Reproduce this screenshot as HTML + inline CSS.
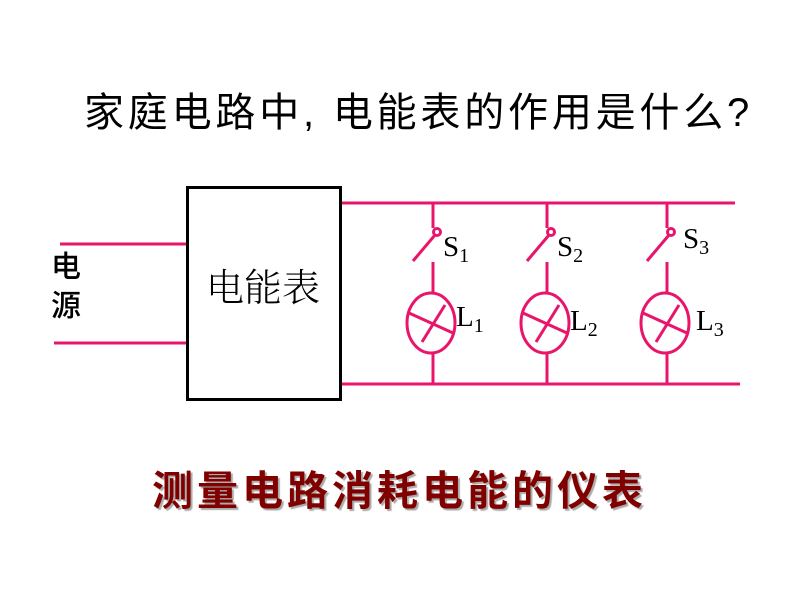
<!DOCTYPE html>
<html><head><meta charset="utf-8"><style>
body{margin:0;background:#fff;width:800px;height:600px;overflow:hidden;position:relative;font-family:"Liberation Sans","Noto Sans CJK SC",sans-serif}
.t{position:absolute;white-space:nowrap;line-height:1}
</style></head><body>
<div class="t" style="left:84px;top:93px;font-size:40px;letter-spacing:3.8px;color:#000">家庭电路中, 电能表的作用是什么?</div>
<svg width="800" height="600" style="position:absolute;left:0;top:0">
<g stroke="#e8156b" stroke-width="3" fill="none">
<line x1="60" y1="244" x2="186" y2="244"/>
<line x1="54" y1="343" x2="186" y2="343"/>
<line x1="342" y1="203" x2="735" y2="203"/>
<line x1="342" y1="384" x2="740" y2="384"/>
<g id="b">
<line x1="433" y1="203" x2="433" y2="228"/>
<circle cx="437" cy="232" r="3.5"/>
<line x1="413" y1="261" x2="435" y2="235"/>
<line x1="433" y1="262" x2="433" y2="293"/>
<ellipse cx="431" cy="323" rx="24" ry="30"/>
<line x1="409" y1="313" x2="453" y2="333"/>
<line x1="422" y1="342" x2="445" y2="305"/>
<line x1="433" y1="353" x2="433" y2="384"/>
</g>
<use href="#b" x="114"/>
<use href="#b" x="234"/>
</g>
<rect x="187.5" y="187.5" width="153" height="212" fill="none" stroke="#000" stroke-width="3"/>
<g font-family="Liberation Serif,serif" font-size="29" fill="#000">
<text x="443" y="256">S<tspan font-size="20" dy="6">1</tspan></text>
<text x="557" y="256">S<tspan font-size="20" dy="6">2</tspan></text>
<text x="683" y="248">S<tspan font-size="20" dy="6">3</tspan></text>
<text x="456" y="326">L<tspan font-size="20" dy="6">1</tspan></text>
<text x="570" y="330">L<tspan font-size="20" dy="6">2</tspan></text>
<text x="696" y="330">L<tspan font-size="20" dy="6">3</tspan></text>
</g>
</svg>
<div class="t" style="left:206px;top:266px;font-size:38px;color:#000;font-family:'Noto Serif CJK SC','Noto Sans CJK SC',serif;font-weight:300">电能表</div>
<div class="t" style="left:51px;top:253px;font-size:30px;color:#000;font-weight:500">电</div>
<div class="t" style="left:51px;top:292px;font-size:30px;color:#000;font-weight:500">源</div>
<div class="t" style="left:152px;top:471px;font-size:41px;letter-spacing:4px;color:#800000;font-weight:bold;text-shadow:2px 2px 1px #aaa">测量电路消耗电能的仪表</div>
</body></html>
